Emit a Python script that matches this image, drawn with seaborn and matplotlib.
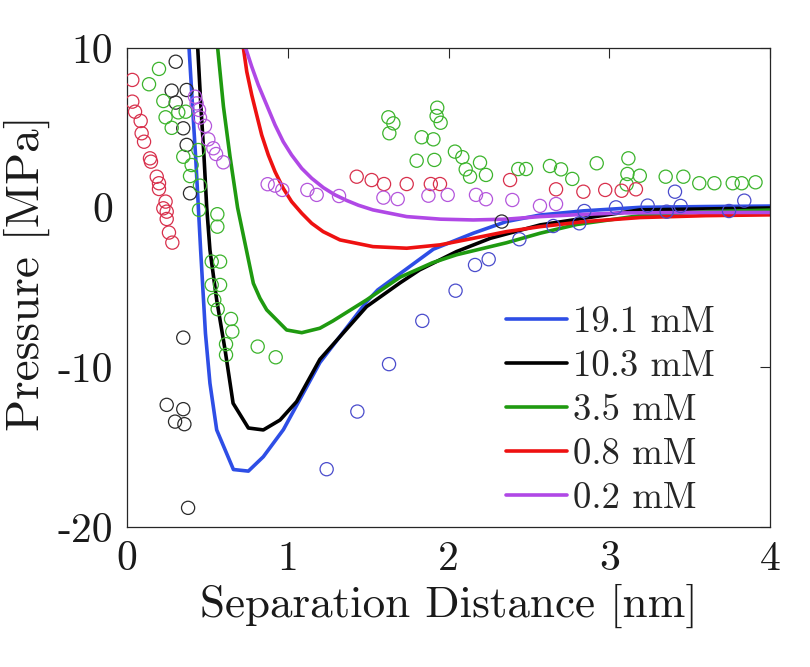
import numpy as np
import pandas as pd
import matplotlib
matplotlib.use("Agg")
import matplotlib.pyplot as plt
from matplotlib.lines import Line2D
import seaborn as sns

# ---------------- data ----------------
concs = ["19.1 mM", "10.3 mM", "3.5 mM", "0.8 mM", "0.2 mM"]

# model curves
fit_191_x = [0.386, 0.408, 0.428, 0.444, 0.458, 0.470, 0.488, 0.516, 0.558, 0.662, 0.755, 0.848,
             0.973, 1.076, 1.20, 1.49, 1.56, 1.73, 1.906, 2.154, 2.36, 2.57, 2.84, 3.19, 3.60, 4.00]
fit_191_y = [10.0, 6.3, 3.0, 0.0, -2.65, -4.74, -7.87, -11.0, -13.92, -16.4, -16.5, -15.6,
             -13.9, -12.0, -9.7, -5.9, -5.15, -3.9, -2.6, -1.6, -0.87, -0.46, -0.2, 0.02, 0.07, 0.1]

fit_103_x = [0.440, 0.460, 0.479, 0.496, 0.516, 0.558, 0.610, 0.660, 0.755, 0.848, 0.952, 1.055,
             1.20, 1.49, 1.70, 1.82, 2.05, 2.26, 2.57, 3.19, 4.00]
fit_103_y = [10.0, 6.3, 3.2, 0.0, -2.65, -5.78, -8.9, -12.25, -13.8, -13.92, -13.3, -12.15,
             -9.5, -6.2, -4.7, -3.9, -2.75, -1.92, -1.08, -0.14, -0.02]

fit_35_x = [0.564, 0.600, 0.641, 0.688, 0.786, 0.827, 0.869, 0.993, 1.087, 1.20, 1.28, 1.49,
            1.70, 1.90, 2.05, 2.36, 2.57, 2.80, 3.19, 3.60, 4.00]
fit_35_y = [10.0, 6.33, 3.19, 0.0, -4.74, -5.67, -6.4, -7.66, -7.83, -7.55, -7.1, -5.78,
            -4.35, -3.45, -2.95, -2.2, -1.6, -1.05, -0.5, -0.25, -0.15]

fit_08_x = [0.724, 0.745, 0.776, 0.807, 0.838, 0.879, 0.921, 0.972, 1.024, 1.087, 1.149, 1.22,
            1.325, 1.53, 1.74, 1.947, 2.154, 2.36, 2.57, 2.84, 3.19, 3.60, 4.00]
fit_08_y = [10.0, 8.52, 7.06, 5.8, 4.55, 3.3, 2.25, 1.21, 0.38, -0.35, -0.98, -1.5,
            -2.02, -2.44, -2.54, -2.33, -1.92, -1.5, -1.19, -0.88, -0.62, -0.5, -0.45]

fit_02_x = [0.738, 0.776, 0.817, 0.869, 0.921, 0.972, 1.024, 1.087, 1.149, 1.222, 1.294, 1.367,
            1.44, 1.53, 1.74, 1.95, 2.154, 2.36, 2.57, 2.84, 3.07, 3.60, 4.00]
fit_02_y = [10.0, 8.83, 7.68, 6.43, 5.18, 4.13, 3.3, 2.46, 1.84, 1.25, 0.8, 0.45,
            0.15, -0.14, -0.56, -0.72, -0.77, -0.72, -0.56, -0.42, -0.33, -0.3, -0.3]

# measured points
pts_191_x = [1.242, 1.433, 1.63, 1.837, 2.044, 2.165, 2.25, 2.441, 2.652, 2.814, 2.845, 3.042,
             3.239, 3.357, 3.409, 3.444, 3.745, 3.84]
pts_191_y = [-16.38, -12.77, -9.8, -7.09, -5.2, -3.59, -3.23, -1.98, -1.15, -0.98, -0.21, 0.02,
             0.13, -0.25, 1.0, 0.11, -0.21, 0.44]

pts_103_x = [0.303, 0.278, 0.371, 0.303, 0.350, 0.371, 0.392, 0.350, 0.247, 0.350, 0.299,
             0.357, 0.380, 2.331]
pts_103_y = [9.14, 7.33, 7.37, 6.58, 4.97, 3.93, 0.90, -8.14, -12.35, -12.62, -13.4,
             -13.56, -18.8, -0.87]

pts_35_x = [0.199, 0.137, 0.226, 0.240, 0.278, 0.319, 0.365, 0.444, 0.350, 0.402, 0.392, 0.454,
            0.448, 0.562, 0.562, 0.527, 0.579, 0.527, 0.579, 0.543, 0.564, 0.647, 0.655, 0.616,
            0.616, 0.813, 0.925,
            1.626, 1.657, 1.632, 1.833, 1.906, 1.802, 1.912, 1.930, 1.926, 1.951, 2.040, 2.086,
            2.107, 2.134, 2.196, 2.233, 2.434, 2.482, 2.631, 2.700, 2.770, 2.922, 3.119, 3.113,
            3.190, 3.108, 3.351, 3.461, 3.560, 3.654, 3.768, 3.824, 3.910]
pts_35_y = [8.69, 7.73, 6.68, 5.66, 5.0, 5.97, 6.01, 3.61, 3.19, 2.67, 1.98, 1.38,
            -0.14, -0.41, -1.19, -3.38, -3.38, -4.84, -4.84, -5.78, -6.36, -6.97, -7.76, -8.55,
            -9.22, -8.7, -9.37,
            5.66, 5.28, 4.66, 4.41, 4.28, 2.94, 2.99, 6.26, 5.74, 5.32, 3.51, 3.16,
            2.4, 1.94, 2.82, 2.05, 2.42, 2.42, 2.61, 2.4, 1.8, 2.78, 3.09, 2.11,
            2.0, 1.46, 1.94, 1.94, 1.53, 1.53, 1.53, 1.53, 1.59]

pts_08_x = [0.033, 0.033, 0.050, 0.085, 0.091, 0.106, 0.143, 0.149, 0.185, 0.199, 0.199, 0.240,
            0.226, 0.247, 0.247, 0.261, 0.282,
            1.429, 1.522, 1.599, 1.740, 1.890, 1.947, 2.383, 2.669, 2.839, 2.975, 3.077, 3.166]
pts_08_y = [8.0, 6.64, 6.01, 5.43, 4.66, 4.13, 3.09, 2.88, 1.94, 1.53, 1.17, 0.38,
            -0.04, -0.25, -0.71, -1.56, -2.19,
            1.94, 1.73, 1.48, 1.48, 1.48, 1.48, 1.73, 1.15, 1.0, 1.11, 1.06, 1.15]

pts_02_x = [0.423, 0.433, 0.448, 0.454, 0.485, 0.506, 0.537, 0.554, 0.599, 0.875, 0.921, 0.966,
            1.122, 1.180, 1.319, 1.595, 1.684, 1.875, 1.995, 2.171, 2.233, 2.397, 2.569, 2.669]
pts_02_y = [6.95, 6.53, 6.12, 5.64, 5.12, 4.28, 3.72, 3.36, 2.84, 1.47, 1.38, 1.11,
            1.11, 0.8, 0.73, 0.63, 0.54, 0.75, 0.8, 0.8, 0.53, 0.48, 0.11, 0.23]

x_ticks = [0, 1, 2, 3, 4]
x_tick_labels = ["0", "1", "2", "3", "4"]
y_ticks = [-20, -10, 0, 10]
y_tick_labels = ["-20", "-10", "0", "10"]

# ---------------- tables ----------------
fits = {concs[0]: (fit_191_x, fit_191_y), concs[1]: (fit_103_x, fit_103_y),
        concs[2]: (fit_35_x, fit_35_y), concs[3]: (fit_08_x, fit_08_y),
        concs[4]: (fit_02_x, fit_02_y)}
pts = {concs[0]: (pts_191_x, pts_191_y), concs[1]: (pts_103_x, pts_103_y),
       concs[2]: (pts_35_x, pts_35_y), concs[3]: (pts_08_x, pts_08_y),
       concs[4]: (pts_02_x, pts_02_y)}

df_fit = pd.concat([pd.DataFrame({"x": v[0], "y": v[1], "conc": k}) for k, v in fits.items()],
                   ignore_index=True)
df_pts = pd.concat([pd.DataFrame({"x": v[0], "y": v[1], "conc": k}) for k, v in pts.items()],
                   ignore_index=True)

line_colors = {concs[0]: "#2e4ee6", concs[1]: "#000000", concs[2]: "#1f9a10",
               concs[3]: "#ee1111", concs[4]: "#b048e6"}
pt_colors = {concs[0]: "#4a4ccc", concs[1]: "#2a2a2a", concs[2]: "#3cb42c",
             concs[3]: "#d8304c", concs[4]: "#b456dc"}

# ---------------- style ----------------
sns.set_style("white")
plt.rcParams["font.family"] = "serif"
plt.rcParams["font.serif"] = ["cmr10", "DejaVu Serif"]
plt.rcParams["mathtext.fontset"] = "cm"
plt.rcParams["axes.formatter.use_mathtext"] = True

fig = plt.figure(figsize=(8.1, 6.67), dpi=100)
ax = fig.add_axes([127 / 810, 1 - 527 / 667, 643 / 810, 479 / 667])

sns.lineplot(data=df_fit, x="x", y="y", hue="conc", hue_order=concs, palette=line_colors,
             estimator=None, sort=True, lw=2.6, legend=False, ax=ax, zorder=2)
sns.scatterplot(data=df_pts, x="x", y="y", hue="conc", hue_order=concs, palette=pt_colors,
                s=90, marker="o", linewidth=0.9, legend=False, ax=ax, zorder=3)
coll = ax.collections[-1]
fc = coll.get_facecolors()
coll.set_edgecolors(fc)
coll.set_facecolors("none")

ax.set_xlim(0, 4)
ax.set_ylim(-20, 10)
ax.set_xticks(x_ticks)
ax.set_xticklabels(x_tick_labels)
ax.set_yticks(y_ticks)
ax.set_yticklabels(y_tick_labels)
ax.tick_params(direction="in", length=7, width=0.8, top=True, right=True,
               labelsize=30, colors="#262626", labelcolor="#1a1a1a")
ax.tick_params(axis="x", pad=10)
ax.tick_params(axis="y", pad=10)
for s in ax.spines.values():
    s.set_color("#262626")
    s.set_linewidth(0.9)

ax.set_xlabel("Separation Distance [nm]", fontsize=32.5, color="#1a1a1a")
ax.set_ylabel("Pressure [MPa]", fontsize=34, color="#1a1a1a")
ax.xaxis.set_label_coords(0.5, -0.118)
ax.yaxis.set_label_coords(-0.12, 0.53)

handles = [Line2D([], [], color=line_colors[c], lw=2.6) for c in concs]
ax.legend(handles, concs, loc="center left", bbox_to_anchor=(0.589, 0.244), frameon=False,
          fontsize=26.5, handlelength=1.66, handletextpad=0.16, labelspacing=0.29,
          borderpad=0, borderaxespad=0)

fig.savefig("out.png", dpi=100)
